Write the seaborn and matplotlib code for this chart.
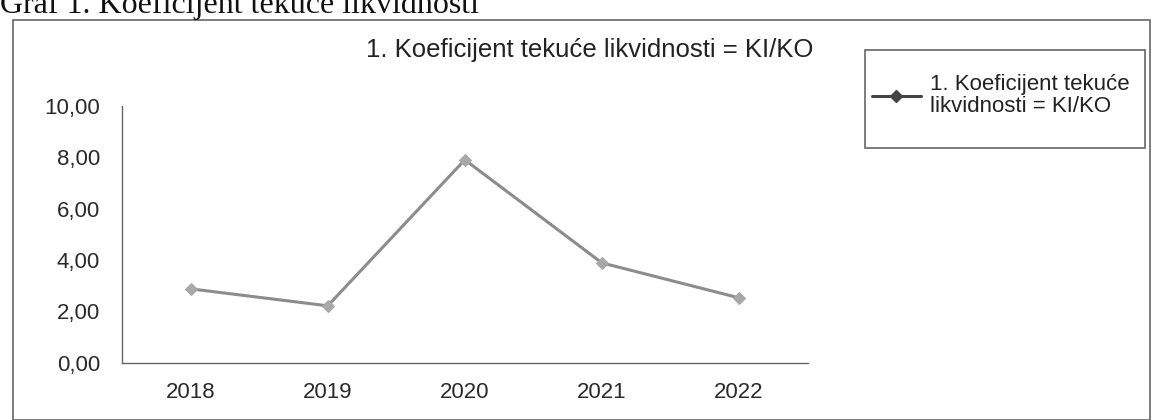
import matplotlib
matplotlib.use("Agg")
import matplotlib.pyplot as plt
import matplotlib.patches as mpatches
from matplotlib.lines import Line2D
import numpy as np
import pandas as pd
import seaborn as sns

years = ["2018", "2019", "2020", "2021", "2022"]
values = [2.88, 2.22, 7.90, 3.89, 2.53]
yticks = [0, 2, 4, 6, 8, 10]
ytick_labels = ["0,00", "2,00", "4,00", "6,00", "8,00", "10,00"]
series_name = "1. Koeficijent tekuće likvidnosti = KI/KO"
legend_label = "1. Koeficijent tekuće\nlikvidnosti = KI/KO"
caption = "Graf 1. Koeficijent tekuće likvidnosti"

sns.set_style("white")
plt.rcParams["font.family"] = ["Liberation Sans", "DejaVu Sans"]

df = pd.DataFrame({"pos": np.arange(len(years)), "val": values})

fig = plt.figure(figsize=(11.52, 4.2), dpi=100)
ax = fig.add_axes([0.106, 0.136, 0.595, 0.612])

sns.lineplot(data=df, x="pos", y="val", ax=ax, color="#8c8c8c", linewidth=2.2,
             marker="D", markersize=6, markerfacecolor="#a8a8a8",
             markeredgecolor="#a8a8a8", legend=False)

ax.set_xlim(-0.5, len(years) - 0.5)
ax.set_ylim(0, 10)
ax.set_yticks(yticks)
ax.set_yticklabels(ytick_labels, fontsize=16, color="#2a2a2a")
ax.set_xticks(np.arange(-0.5, len(years), 1.0))
ax.set_xticklabels([])
ax.set_xticks(np.arange(len(years)), minor=True)
ax.set_xticklabels(years, minor=True, fontsize=16, color="#2a2a2a")
ax.tick_params(axis="x", which="major", length=6, direction="out", color="#666666", width=1)
ax.tick_params(axis="x", which="minor", length=0, pad=14)
ax.tick_params(axis="y", which="major", length=4, direction="out", color="#666666", width=1, pad=12)
ax.set_xlabel("")
ax.set_ylabel("")
for s in ["top", "right"]:
    ax.spines[s].set_visible(False)
for s in ["left", "bottom"]:
    ax.spines[s].set_color("#666666")
    ax.spines[s].set_linewidth(1)

fig.text(0.512, 0.88, series_name, ha="center", va="center", fontsize=18.5, color="#222222")

# legend box (drawn as a frame like the original)
fig.patches.append(mpatches.Rectangle((865 / 1152, 1 - 148 / 420), 280 / 1152, 98 / 420,
                                      transform=fig.transFigure, fill=False,
                                      edgecolor="#666666", linewidth=1.2))
h = [Line2D([], [], color="#444444", marker="D", markersize=6, linewidth=2.2)]
leg = fig.legend(h, [legend_label], loc="upper left", fontsize=16,
                 bbox_to_anchor=(872 / 1152, 1 - 74 / 420),
                 frameon=False, handlelength=2.2, borderpad=0.0,
                 handletextpad=0.4, borderaxespad=0.0)
for t in leg.get_texts():
    t.set_color("#222222")
    t.set_linespacing(1.08)

fig.patches.append(mpatches.Rectangle((0.011, 0.0), 0.987, 0.952, transform=fig.transFigure,
                                      fill=False, edgecolor="#666666", linewidth=1.2))
fig.text(0.0, 0.969, caption, ha="left", va="baseline", fontsize=23,
         family=["Liberation Serif", "DejaVu Serif"], color="#111111")

fig.savefig("out.png", dpi=100)
